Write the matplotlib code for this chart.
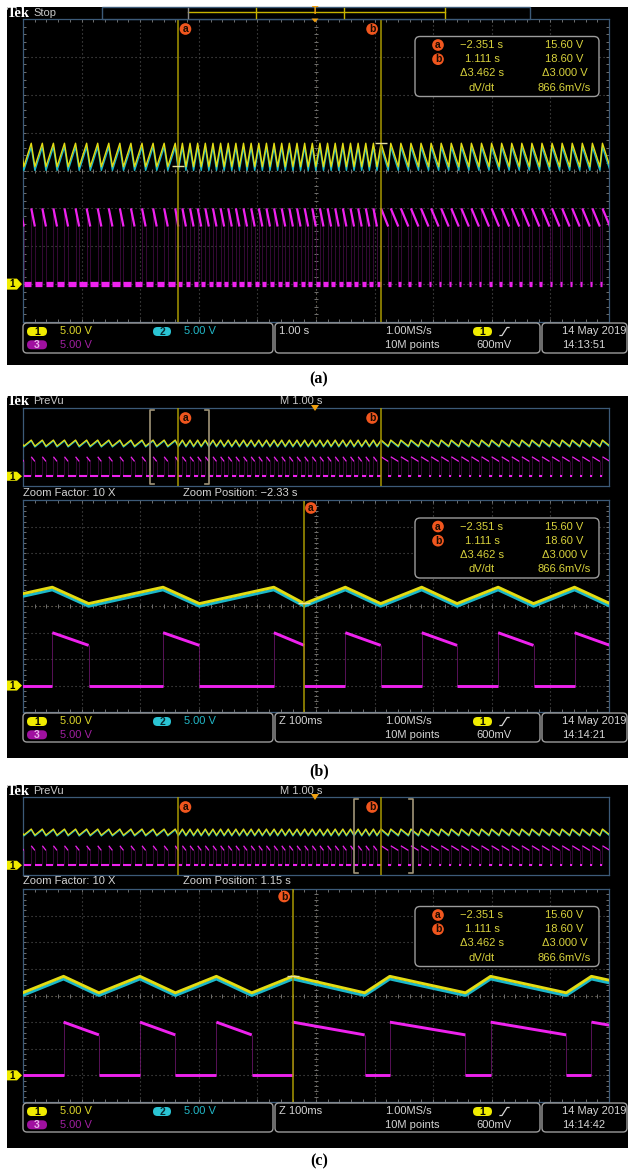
import numpy as np
import matplotlib.pyplot as plt
from matplotlib.patches import FancyBboxPatch, Polygon, Rectangle
from matplotlib.collections import LineCollection
from matplotlib.transforms import blended_transform_factory

plt.rcParams['font.family'] = ['Liberation Sans', 'DejaVu Sans']

W, H = 628, 1174

# cursor readout, identical in the three captures
cursor_names = ['a', 'b']
cursor_t = [-2.351, 1.111]          # s
cursor_v = [15.60, 18.60]           # V
readout_time = ['\u22122.351 s', '1.111 s', '\u03943.462 s', 'dV/dt']
readout_volt = ['15.60 V', '18.60 V', '\u03943.000 V', '866.6mV/s']

# ch1 capacitor voltage: three charge regimes over the 10 s record
regime_first_peak = [-5.048, -2.280, 1.276]   # s
regime_period = [0.189, 0.1304, 0.172]         # s
regime_rise = [0.127, 0.070, 0.043]            # s spent charging in each cycle
regime_cycles = [15, 27, 23]
v_peak, v_trough = 18.60, 15.50                # V
ch2_offset = -0.5                              # V, ch2 rides just under ch1
ch3_start, ch3_end = 10.0, 7.6                 # V, load pulse at switch-on / switch-off

# capture settings
captions = ['(a)', '(b)', '(c)']
run_state = ['Stop', 'PreVu', 'PreVu']
zoom_pos = [None, -2.33, 1.15]                 # s
zoom_factor = 10
stamp_time = ['14:13:51', '14:14:21', '14:14:42']

# ---- waveform breakpoints -------------------------------------------------
peaks = np.concatenate([p0 + per * np.arange(n) for p0, per, n in
                        zip(regime_first_peak, regime_period, regime_cycles)])
troughs = peaks - np.repeat(regime_rise, regime_cycles)
t_ch1 = np.column_stack([troughs, peaks]).ravel()
v_ch1 = np.tile([v_trough, v_peak], len(peaks))

on, off = peaks[:-1], troughs[1:]
ch3_high = [[(a, ch3_start), (b, ch3_end)] for a, b in zip(on, off)]
ch3_low = [[(-6, 0), (on[0], 0)]] + [[(b, 0), (a, 0)] for b, a in zip(off[:-1], on[1:])]
ch3_edges = [[(a, 0), (a, ch3_start)] for a in on] + [[(b, ch3_end), (b, 0)] for b in off]

C1 = '#e4dc12'
C2 = '#1cb8ca'
C3 = '#ee22ee'
CUR = '#a89800'
FRAME = '#3c5a78'
BOXEDGE = '#9c9c9c'
TXT = '#d4d4d4'
RD = '#d8d23c'
ORANGE = '#f0561e'
GX0, GX1 = 23, 609

fig = plt.figure(figsize=(W / 100, H / 100), dpi=100)
bg = fig.add_axes([0, 0, 1, 1])
bg.set_xlim(0, W); bg.set_ylim(H, 0); bg.axis('off')


def graticule(ax, wpx, hpx):
    tr = ax.transAxes
    for i in range(1, 10):
        c = '#8a8270' if i == 5 else '#565656'
        ax.plot([i / 10, i / 10], [0, 1], color=c, lw=0.8, ls=(0, (1, 2.6)), transform=tr, zorder=0.5)
    for j in range(1, 8):
        c = '#8a8270' if j == 4 else '#565656'
        ax.plot([0, 1], [j / 8, j / 8], color=c, lw=0.8, ls=(0, (1, 2.6)), transform=tr, zorder=0.5)
    segs = []
    for x in np.arange(1, 50) / 50:
        segs += [[(x, 0), (x, 3 / hpx)], [(x, 1), (x, 1 - 3 / hpx)],
                 [(x, 0.5 - 2 / hpx), (x, 0.5 + 2 / hpx)]]
    for y in np.arange(1, 40) / 40:
        segs += [[(0, y), (3 / wpx, y)], [(1, y), (1 - 3 / wpx, y)],
                 [(0.5 - 2 / wpx, y), (0.5 + 2 / wpx, y)]]
    ax.add_collection(LineCollection(segs, colors='#707070', lw=0.7, transform=tr, zorder=0.6))


def screen(y0, y1, t0, t1, grid):
    ax = fig.add_axes([GX0 / W, 1 - y1 / H, (GX1 - GX0) / W, (y1 - y0) / H])
    ax.set_xlim(t0, t1)
    ax.set_ylim(-5, 35)
    ax.set_facecolor('black')
    ax.set_xticks([]); ax.set_yticks([])
    for s in ax.spines.values():
        s.set_color(FRAME); s.set_linewidth(0.9)
    if grid:
        graticule(ax, GX1 - GX0, y1 - y0)
    return ax


def traces(ax, lw1, lw3, lw_base, edge_col):
    ax.plot(t_ch1, v_ch1 + ch2_offset, color=C2, lw=lw1, zorder=3)
    ax.plot(t_ch1, v_ch1, color=C1, lw=lw1, zorder=3.1)
    # switching edges are fast, so the scope paints them faint
    ax.add_collection(LineCollection(ch3_edges, colors=edge_col, lw=0.5, zorder=2.5))
    ax.add_collection(LineCollection(ch3_high, colors=C3, lw=lw3, zorder=2.6, capstyle='butt'))
    ax.add_collection(LineCollection(ch3_low, colors=C3, lw=lw_base, zorder=2.6, capstyle='butt'))


def cursors(ax, label_dy, cross):
    t0, t1 = ax.get_xlim()
    tr = blended_transform_factory(ax.transData, ax.transAxes)
    for name, t, v in zip(cursor_names, cursor_t, cursor_v):
        if not t0 < t < t1:
            continue
        ax.axvline(t, color=CUR, lw=1.1, zorder=4)
        dx = 5.2 if name == 'a' else -6.5
        ax.annotate(name, xy=(t, 1), xycoords=tr, xytext=(dx, -label_dy * 0.72),
                    textcoords='offset points', ha='center', va='center',
                    fontsize=7.5, fontweight='bold', color='#1a0a00', zorder=6,
                    bbox=dict(boxstyle='circle,pad=0.08', fc=ORANGE, ec='none'))
        if cross:
            ax.plot([t], [v], marker='_', ms=9, mew=1.0, color='#e8e0a0', zorder=5)


def ground_y(ax):
    return H - ax.transData.transform((0, 0))[1]


def pill(x0, x1, y, fc, txt, tc):
    h = 9
    ov.add_patch(FancyBboxPatch((x0, y - h / 2), x1 - x0, h,
                                boxstyle='round,pad=0,rounding_size=4.5', fc=fc, ec='none'))
    ov.text((x0 + x1) / 2, y + 0.3, txt, ha='center', va='center', fontsize=7.5,
            color=tc, fontweight='bold')


def ground_tag(y, h):
    ov.add_patch(Polygon([(7, y - h / 2), (17, y - h / 2), (22, y), (17, y + h / 2), (7, y + h / 2)],
                         closed=True, fc='#f0ec00', ec='none'))
    ov.text(12.5, y + 0.3, '1', ha='center', va='center', fontsize=7, color='black', fontweight='bold')


layout = [
    dict(top=7, bot=365, head=13, over=None, main=(19, 322), bar=(323, 353), cap=379),
    dict(top=396, bot=758, head=401, over=(408, 486), main=(500.5, 712), bar=(713, 742), cap=771),
    dict(top=785, bot=1148, head=791, over=(797, 875), main=(889, 1102), bar=(1103, 1132), cap=1161),
]

tags = []
for k, L in enumerate(layout):
    bg.add_patch(Rectangle((7, L['top']), W - 7, L['bot'] - L['top'], fc='black', ec='none'))

    if L['over'] is not None:
        o0, o1 = L['over']
        axo = screen(o0, o1, -5, 5, grid=False)
        traces(axo, 0.9, 0.9, 1.5, '#4a0c4a')
        cursors(axo, 10, cross=False)
        # zoom window bracket
        lo = zoom_pos[k] - 5 / zoom_factor
        hi = zoom_pos[k] + 5 / zoom_factor
        s = 10 / (GX1 - GX0) * 4
        for x, d in [(lo, s), (hi, -s)]:
            axo.plot([x + d, x, x, x + d], [33.8, 33.8, -3.8, -3.8], color='#a09478', lw=1.2, zorder=5)
        tags.append((ground_y(axo), 9))
        ax = screen(*L['main'], lo, hi, grid=True)
        traces(ax, 2.1, 2.1, 2.1, '#7a187a')
        cursors(ax, 7.5, cross=True)
    else:
        ax = screen(*L['main'], -5, 5, grid=True)
        traces(ax, 1.0, 1.6, 3.8, '#4a0c4a')
        cursors(ax, 10, cross=True)
    tags.append((ground_y(ax), 11 if k == 0 else 10))

ov = fig.add_axes([0, 0, 1, 1])
ov.set_xlim(0, W); ov.set_ylim(H, 0); ov.axis('off')

for y, h in tags:
    ground_tag(y, h)

for k, L in enumerate(layout):
    hy = L['head']
    ov.text(7, hy + 0.5, 'Tek', ha='left', va='center', fontsize=10.5, fontweight='bold',
            color='white', family=['Liberation Serif', 'DejaVu Serif'])
    ov.text(33, hy, run_state[k], ha='left', va='center', fontsize=8, color='#c8c8c8')

    if k == 0:
        # record view bar
        ov.add_patch(Rectangle((102, 7), 428, 12, fc='black', ec=FRAME, lw=1))
        ov.plot([188, 445], [12, 12], color='#c8b400', lw=1)
        ov.plot([188, 188], [8, 18], color='#8a8a8a', lw=1)
        for x in (256, 344, 445):
            ov.plot([x, x], [8, 18], color='#c8b400', lw=1)
        ov.text(315, 11.5, 'T', ha='center', va='center', fontsize=7.5, fontweight='bold', color='#f0a010')
        ov.add_patch(Polygon([(311.5, 18.5), (318.5, 18.5), (315, 22.5)], fc='#f0a010', ec='none'))
    else:
        ov.text(322, hy, 'M 1.00 s', ha='right', va='center', fontsize=8, color='#c8c8c8')
        ov.add_patch(Polygon([(311, L['over'][0] - 3), (319, L['over'][0] - 3), (315, L['over'][0] + 3)],
                             fc='#f0a010', ec='none'))
        zy = L['over'][1] + 6.5
        ov.text(23, zy, 'Zoom Factor: %d X' % zoom_factor, ha='left', va='center', fontsize=8, color=TXT)
        ov.text(183, zy, 'Zoom Position: %s s' % ('%.2f' % zoom_pos[k]).replace('-', '\u2212'),
                ha='left', va='center', fontsize=8, color=TXT)

    # cursor readout
    top = L['main'][0] + 17.5
    ov.add_patch(FancyBboxPatch((415, top), 184, 60, boxstyle='round,pad=0,rounding_size=5',
                                fc='black', ec=BOXEDGE, lw=1))
    for i in range(4):
        y = top + 8.5 + i * 14.2
        if i < 2:
            ov.text(438, y, cursor_names[i], ha='center', va='center', fontsize=7.5,
                    fontweight='bold', color='#1a0a00',
                    bbox=dict(boxstyle='circle,pad=0.08', fc=ORANGE, ec='none'))
        ov.text(482, y, readout_time[i], ha='center', va='center', fontsize=8, color=RD)
        ov.text(564.5, y, readout_volt[i], ha='center', va='center', fontsize=8, color=RD)

    # status bar
    b0, b1 = L['bar']
    r1, r2 = b0 + 8.5, b0 + 21.8
    for x0, x1 in [(23, 273), (275, 540), (542, 627)]:
        ov.add_patch(FancyBboxPatch((x0, b0), x1 - x0, b1 - b0, boxstyle='round,pad=0,rounding_size=4',
                                    fc='black', ec=BOXEDGE, lw=1))
    pill(27, 47, r1, '#f0ec00', '1', 'black')
    ov.text(60, r1, '5.00 V', ha='left', va='center', fontsize=8, color='#dcd62a')
    pill(153, 171, r1, '#2ac4d4', '2', '#0a2a30')
    ov.text(184, r1, '5.00 V', ha='left', va='center', fontsize=8, color='#22b8c8')
    pill(27, 47, r2, '#a010a0', '3', '#e8b0e8')
    ov.text(60, r2, '5.00 V', ha='left', va='center', fontsize=8, color='#a020a0')

    ov.text(279, r1, '1.00 s' if k == 0 else 'Z 100ms', ha='left', va='center', fontsize=8, color=TXT)
    ov.text(385, r1, '1.00MS/s', ha='left', va='center', fontsize=8, color=TXT)
    ov.text(385, r2, '10M points', ha='left', va='center', fontsize=8, color=TXT)
    pill(473, 492, r1, '#f0ec00', '1', 'black')
    ov.plot([500, 502, 507, 509], [r1 + 4, r1 + 4, r1 - 4, r1 - 4], color=TXT, lw=0.9)
    ov.text(476, r2, '600mV', ha='left', va='center', fontsize=8, color=TXT)
    ov.text(562, r1, '14 May 2019', ha='left', va='center', fontsize=8, color=TXT)
    ov.text(562, r2, stamp_time[k], ha='left', va='center', fontsize=8, color=TXT)

    ov.text(319, L['cap'], captions[k], ha='center', va='center', fontsize=11.5, fontweight='bold',
            color='black', family=['Liberation Serif', 'DejaVu Serif'])

fig.savefig('out.png', dpi=100, facecolor='white')
